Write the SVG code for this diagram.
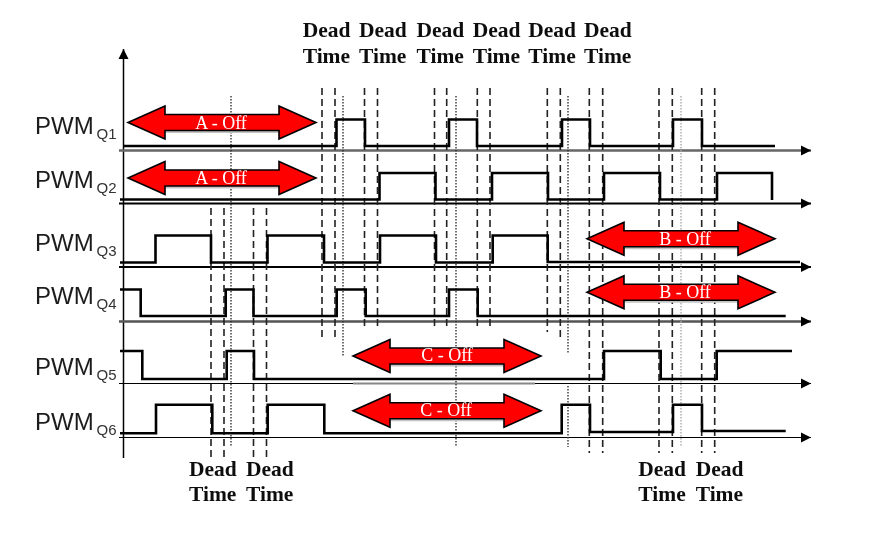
<svg xmlns="http://www.w3.org/2000/svg" width="886" height="540" viewBox="0 0 886 540">
<style>
text{font-family:"Liberation Sans",Arial,sans-serif}
.pwm{font-size:24px;fill:#1c1c1c}
.sub{font-size:15px;fill:#333}
.dt{font-family:"Liberation Serif","Times New Roman",serif;font-size:21.5px;font-weight:bold;fill:#111}
.off{font-family:"Liberation Serif","Times New Roman",serif;font-size:18px;fill:#fff;text-anchor:middle}
.sig{fill:none;stroke:#000;stroke-width:2.6}
.base{fill:none;stroke:#000;marker-end:url(#h)}
.dash{fill:none;stroke:#222;stroke-width:1.6;stroke-dasharray:7 4}
.dot{fill:none;stroke:#333;stroke-width:1.4;stroke-dasharray:1.5 1.5}
.arr{fill:#f00;stroke:#000;stroke-width:1.6;stroke-linejoin:miter}
.sh{fill:#c4c4c4}
</style>
<defs>
<filter id="b" x="0" y="0" width="886" height="540" filterUnits="userSpaceOnUse"><feGaussianBlur stdDeviation="0.4"/></filter>
<marker id="h" markerUnits="userSpaceOnUse" markerWidth="12" markerHeight="12" refX="10" refY="6" orient="auto"><path d="M0 1L10 6L0 11Z" fill="#000"/></marker>
<g id="dbl">
<path class="sh" d="M-57 8H57V10.500H-57Z"/>
<path class="arr" d="M-94 0L-57-16.500V-8H57V-16.500L94 0L57 16.500V8H-57V16.500Z"/>
</g>
</defs>
<rect width="886" height="540" fill="#fff"/>
<g filter="url(#b)">
<g id="connectors">
<path d="M123.500 458V49" fill="none" stroke="#000" stroke-width="1.500" marker-end="url(#h)"/>
<path class="base" stroke-width="2.500" style="stroke:#666" d="M119 150.500H811"/>
<path class="base" stroke-width="1.800" d="M119 203.500H811"/>
<path class="base" stroke-width="2" d="M119 267H811"/>
<path class="base" stroke-width="2.500" style="stroke:#555" d="M119 321.500H811"/>
<path class="base" stroke-width="1.200" d="M119 383.500H811"/>
<path d="M353 383.500H535" fill="none" stroke="#888" stroke-width="2"/>
<path class="base" stroke-width="1.200" d="M119 437.500H811"/>
<path class="dash" d="M322 88V341M335 88V341M364.500 88V329M377.500 88V329M434.500 88V329M446.700 88V329M477.300 88V329M490 88V329M547.300 88V332M560.300 88V341M589.300 88V453M602.700 88V453M659 88V453M672.300 88V453M701.700 88V453M714.700 88V453"/>
<path class="dash" d="M211 208V461M224 208V461M253.500 208V461M266.500 208V461"/>
<path class="dot" d="M231 96V447M343 96V357M456 96V447M568 96V354M568 386V447"/>
<path class="dot" style="stroke:#aaa" d="M681 96V447"/>
</g>
<g id="pwm-q1">
<path class="sig" d="M123 146H336.500V119.500H365V146H449V119.500H477V146H562V119.500H590V146H673V119.500H702V146H775"/>
<text class="pwm" x="35" y="134">PWM</text><text class="sub" x="96.500" y="139">Q1</text>
</g>
<g id="pwm-q2">
<path class="sig" d="M120 199.500H379.500V173H435.500V199.500H492V173H548V199.500H604V173H660V199.500H717V173H772V200"/>
<text class="pwm" x="35" y="188">PWM</text><text class="sub" x="96.500" y="193">Q2</text>
</g>
<g id="pwm-q3">
<path class="sig" d="M120 262.500H155.500V235.500H211V262.500H267.500V235.500H324V262.500H380V235.500H436V262.500H492.700V235.500H547.700V262H800"/>
<text class="pwm" x="35" y="250.500">PWM</text><text class="sub" x="96.500" y="255.500">Q3</text>
</g>
<g id="pwm-q4">
<path class="sig" d="M120 289.500H140.700V316H225.700V289.500H253.500V316H336.700V289.500H365.700V316H449V289.500H477.700V316H785.700"/>
<text class="pwm" x="35" y="303.500">PWM</text><text class="sub" x="96.500" y="308.500">Q4</text>
</g>
<g id="pwm-q5">
<path class="sig" d="M120 351H142.300V379H226.700V351H254V379H604V351H660.700V379H716.700V351H792"/>
<text class="pwm" x="35" y="374.500">PWM</text><text class="sub" x="96.500" y="379.500">Q5</text>
</g>
<g id="pwm-q6">
<path class="sig" d="M120 433.300H156V404.700H212.300V433.300H267.700V404.700H324.300V433.300H561.700V404.700H590V432H673V404.700H702V431H785.700"/>
<text class="pwm" x="35" y="429.500">PWM</text><text class="sub" x="96.500" y="434.500">Q6</text>
</g>
<g id="a-off-1"><use href="#dbl" x="222" y="122.500"/><text class="off" x="221" y="129">A - Off</text></g>
<g id="a-off-2"><use href="#dbl" x="222" y="178"/><text class="off" x="221" y="184">A - Off</text></g>
<g id="b-off-1"><use href="#dbl" x="681" y="238.700"/><text class="off" x="685" y="244.500">B - Off</text></g>
<g id="b-off-2"><use href="#dbl" x="681" y="292.300"/><text class="off" x="685" y="298">B - Off</text></g>
<g id="c-off-1"><use href="#dbl" x="447" y="356"/><text class="off" x="447" y="361">C - Off</text></g>
<g id="c-off-2"><use href="#dbl" x="447" y="410.700"/><text class="off" x="446" y="416">C - Off</text></g>
<g id="dead-time-top">
<text class="dt" x="302.700" y="37">Dead</text><text class="dt" x="359" y="37">Dead</text><text class="dt" x="416.500" y="37">Dead</text><text class="dt" x="472.700" y="37">Dead</text><text class="dt" x="528.300" y="37">Dead</text><text class="dt" x="584" y="37">Dead</text>
<text class="dt" x="302.700" y="62.500">Time</text><text class="dt" x="359" y="62.500">Time</text><text class="dt" x="416.500" y="62.500">Time</text><text class="dt" x="472.700" y="62.500">Time</text><text class="dt" x="528.300" y="62.500">Time</text><text class="dt" x="584" y="62.500">Time</text>
</g>
<g id="dead-time-left">
<text class="dt" x="189" y="476">Dead</text><text class="dt" x="246" y="476">Dead</text>
<text class="dt" x="189" y="500.700">Time</text><text class="dt" x="246" y="500.700">Time</text>
</g>
<g id="dead-time-right">
<text class="dt" x="638.300" y="476">Dead</text><text class="dt" x="695.700" y="476">Dead</text>
<text class="dt" x="638.300" y="500.700">Time</text><text class="dt" x="695.700" y="500.700">Time</text>
</g>
</g>
</svg>
